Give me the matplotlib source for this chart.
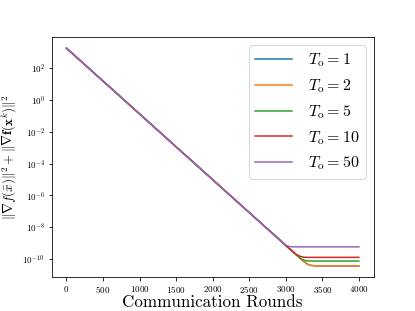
import numpy
import matplotlib
matplotlib.use("Agg")
import matplotlib.pyplot as plt

plt.rcParams['font.family'] = 'serif'
plt.rcParams['font.serif'] = ['cmr10', 'DejaVu Serif']
plt.rcParams['mathtext.fontset'] = 'cm'
plt.rcParams['axes.formatter.use_mathtext'] = True

# communication rounds where values were read
rounds = [0, 500, 1000, 1500, 2000, 2500, 2800, 2900, 3000, 3050, 3100, 3150,
          3200, 3250, 3300, 3350, 3400, 3450, 3500, 3600, 4000]

# shared decay part (0 .. 2900)
decay = [1.78e3, 1.53e1, 1.32e-1, 1.13e-3, 9.8e-6, 8.4e-8, 4.9e-9, 1.9e-9]

err_T1 = decay + [7.2e-10, 4.5e-10, 2.8e-10, 1.75e-10, 1.1e-10, 6.9e-11, 4.7e-11,
                  4.0e-11, 3.8e-11, 3.75e-11, 3.75e-11, 3.75e-11, 3.75e-11]
err_T2 = decay + [7.2e-10, 4.5e-10, 2.8e-10, 1.75e-10, 1.1e-10, 6.9e-11, 4.7e-11,
                  4.0e-11, 3.8e-11, 3.8e-11, 3.8e-11, 3.8e-11, 3.8e-11]
err_T5 = decay + [7.2e-10, 4.5e-10, 2.8e-10, 1.75e-10, 1.12e-10, 8.5e-11, 7.8e-11,
                  7.6e-11, 7.6e-11, 7.6e-11, 7.6e-11, 7.6e-11, 7.6e-11]
err_T10 = decay + [7.2e-10, 4.5e-10, 2.95e-10, 1.9e-10, 1.48e-10, 1.32e-10, 1.29e-10,
                   1.29e-10, 1.29e-10, 1.29e-10, 1.29e-10, 1.29e-10, 1.29e-10]
err_T50 = decay + [7.6e-10, 6.2e-10, 5.9e-10, 5.9e-10, 5.9e-10, 5.9e-10, 5.9e-10,
                   5.9e-10, 5.9e-10, 5.9e-10, 5.9e-10, 5.9e-10, 5.9e-10]

labels = [r'$T_\mathrm{o} = 1$', r'$T_\mathrm{o} = 2$', r'$T_\mathrm{o} = 5$',
          r'$T_\mathrm{o} = 10$', r'$T_\mathrm{o} = 50$']

fig = plt.figure(figsize=(415/72., 311/72.), dpi=72)
ax = fig.add_subplot(111)
for ys, lab in zip([err_T1, err_T2, err_T5, err_T10, err_T50], labels):
    ax.plot(rounds, ys, label=lab)
ax.set_yscale('log')
ax.tick_params(labelsize=9)
ax.set_xlabel('Communication Rounds', fontsize=17, labelpad=0)
ax.set_ylabel(r'$\|\nabla f(\bar{x})\|^2 + \|\overline{\nabla \mathbf{f}}(\mathbf{x}^k)\|^2$', fontsize=13)
ax.legend(loc='upper right', fontsize=16, handlelength=2.3, handletextpad=1.0)
fig.savefig('out.png', dpi=72)
